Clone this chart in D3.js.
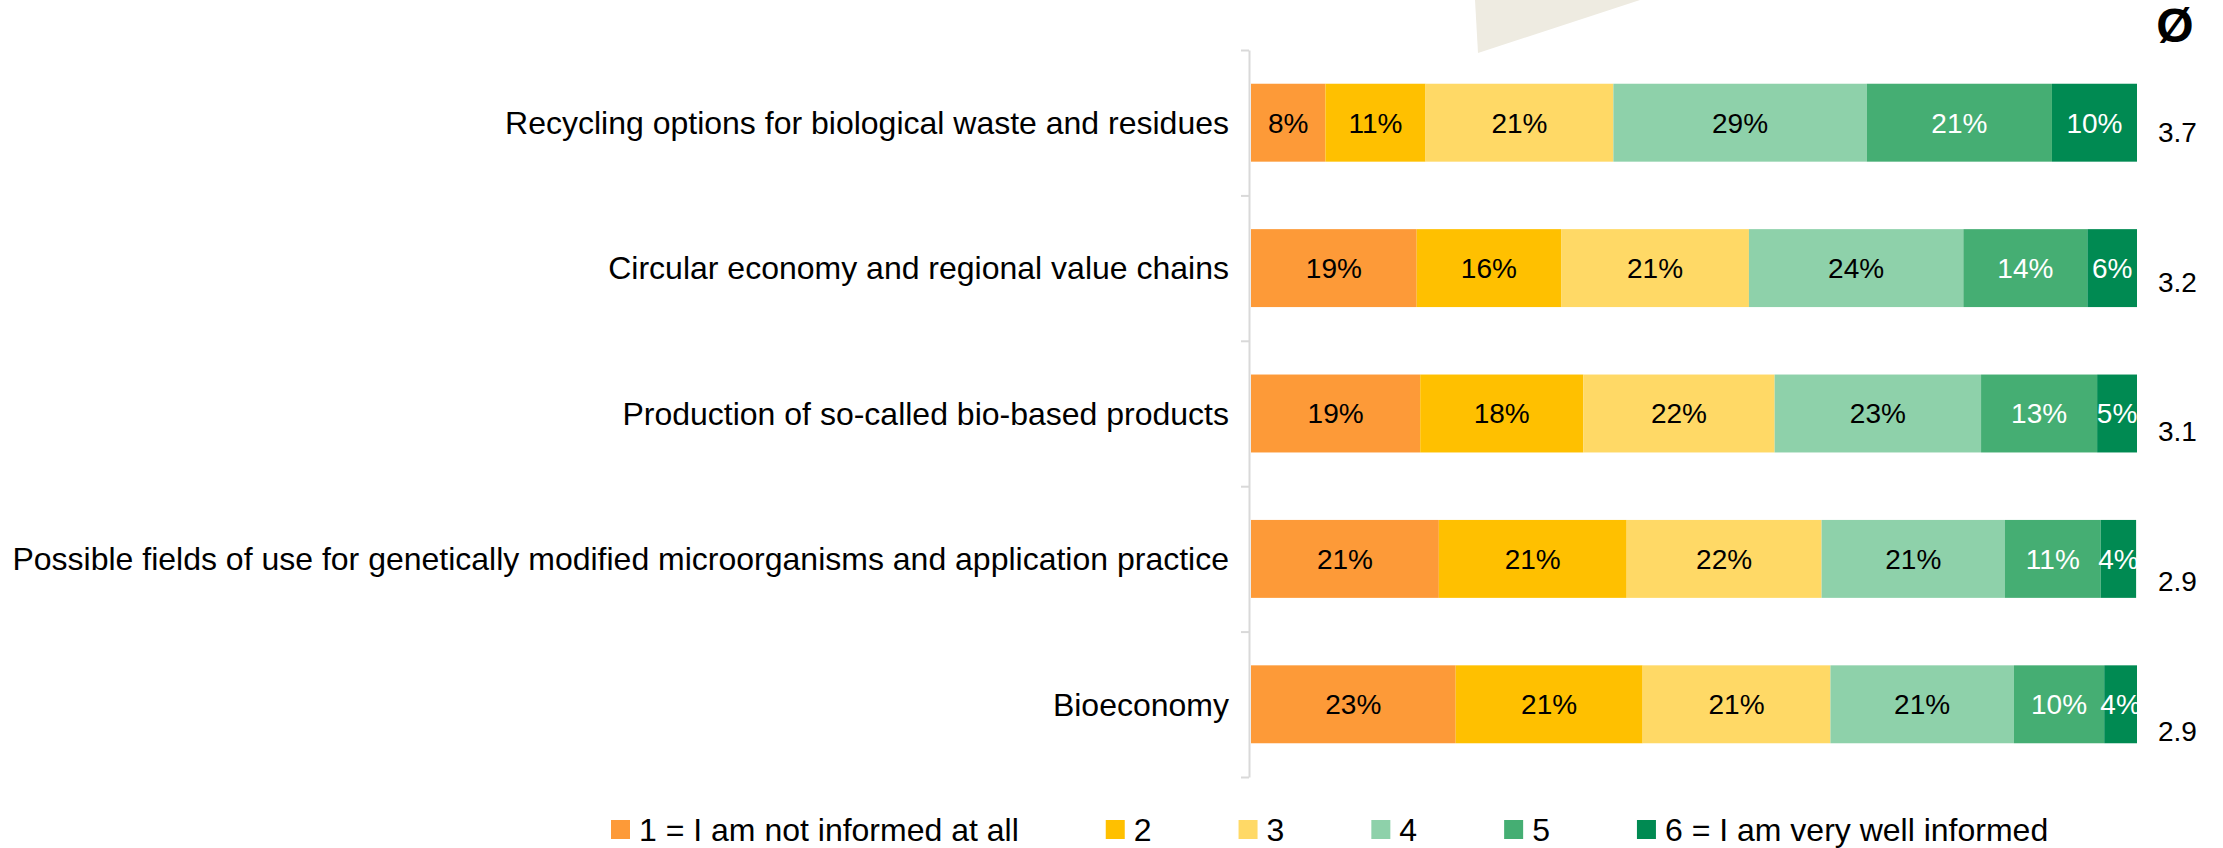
<!DOCTYPE html>
<html>
<head>
<meta charset="utf-8">
<script src="https://d3js.org/d3.v7.min.js"></script>
<style>
  body { margin: 0; background: #fff; }
  svg text { font-family: "Liberation Sans", Arial, sans-serif; }
</style>
</head>
<body>
<svg id="chart" width="2223" height="848"></svg>
<script>
// categories (top to bottom)
const categories = [
  'Recycling options for biological waste and residues',
  'Circular economy and regional value chains',
  'Production of so-called bio-based products',
  'Possible fields of use for genetically modified microorganisms and application practice',
  'Bioeconomy'
];

// share per answer level, in %, one array per level (1..6)
const level1 = [8.4, 18.7, 19.1, 21.2, 23.1];
const level2 = [11.3, 16.3, 18.4, 21.2, 21.1];
const level3 = [21.2, 21.2, 21.6, 22.0, 21.2];
const level4 = [28.6, 24.2, 23.3, 20.7, 20.7];
const level5 = [20.9, 14.0, 13.1, 10.8, 10.2];
const level6 = [9.6, 5.6, 4.5, 4.0, 3.7];

// mean rating per row
const averages = [3.7, 3.2, 3.1, 2.9, 2.9];

const legendLabels = ['1 = I am not informed at all', '2', '3', '4', '5', '6 = I am very well informed'];
const colors = ['#FD9A38', '#FFC000', '#FFD966', '#8ED1AA', '#45AE73', '#008A52'];
const labelColors = ['#000', '#000', '#000', '#000', '#fff', '#fff'];

const levels = [level1, level2, level3, level4, level5, level6];

const svg = d3.select('#chart');
svg.append('rect').attr('width', 2223).attr('height', 848).attr('fill', '#fff');

// decorative beige wedge at the top
svg.append('polygon')
  .attr('points', '1475,0 1478,53 1640,0')
  .attr('fill', '#EEEBE1');

const y = d3.scaleBand()
  .domain(categories)
  .range([50, 777])
  .paddingInner(0.464)
  .paddingOuter(0.232);

const x = d3.scaleLinear().domain([0, 100]).range([1251, 2137]);

// axis with ticks on the category boundaries
const yEdge = d3.scaleLinear().domain([0, categories.length]).range([50, 777]);
const axis = svg.append('g')
  .attr('transform', 'translate(1249,0)')
  .call(d3.axisLeft(yEdge).tickValues(d3.range(categories.length + 1)).tickFormat('').tickSize(8).tickSizeOuter(0));
axis.selectAll('path, line').attr('stroke', '#D9D9D9').attr('stroke-width', 2);

// category labels
svg.append('g').selectAll('text')
  .data(categories)
  .join('text')
  .attr('x', 1229)
  .attr('y', d => y(d) + y.bandwidth() / 2)
  .attr('dy', '0.35em')
  .attr('text-anchor', 'end')
  .attr('font-size', 32)
  .attr('fill', '#000')
  .text(d => d);

// stacked segments
const rows = categories.map((c, i) => {
  let acc = 0;
  return levels.map((lv, k) => {
    const seg = { cat: c, k: k, v: lv[i], x0: acc, x1: acc + lv[i] };
    acc += lv[i];
    return seg;
  });
}).flat();

svg.append('g').selectAll('rect')
  .data(rows)
  .join('rect')
  .attr('x', d => x(d.x0))
  .attr('y', d => y(d.cat))
  .attr('width', d => x(d.x1) - x(d.x0))
  .attr('height', y.bandwidth())
  .attr('fill', d => colors[d.k]);

svg.append('g').selectAll('text')
  .data(rows)
  .join('text')
  .attr('x', d => (x(d.x0) + x(d.x1)) / 2)
  .attr('y', d => y(d.cat) + y.bandwidth() / 2)
  .attr('dy', '0.35em')
  .attr('text-anchor', 'middle')
  .attr('font-size', 28)
  .attr('fill', d => labelColors[d.k])
  .text(d => Math.round(d.v) + '%');

// averages column
const yAvg = d3.scalePoint().domain(categories).range([132, 731]);
svg.append('text')
  .attr('x', 2175)
  .attr('y', 42)
  .attr('text-anchor', 'middle')
  .attr('font-size', 48)
  .attr('font-weight', 'bold')
  .text('Ø');

svg.append('g').selectAll('text')
  .data(categories)
  .join('text')
  .attr('x', 2158)
  .attr('y', d => yAvg(d))
  .attr('dy', '0.35em')
  .attr('font-size', 28)
  .text((d, i) => averages[i].toFixed(1));

// legend
const legend = svg.append('g').attr('transform', 'translate(0,830)');
let lx = 611;
legendLabels.forEach((lab, k) => {
  legend.append('rect')
    .attr('x', lx).attr('y', -10)
    .attr('width', 19).attr('height', 19)
    .attr('fill', colors[k]);
  const t = legend.append('text')
    .attr('x', lx + 28)
    .attr('y', 0)
    .attr('dy', '0.35em')
    .attr('font-size', 32)
    .text(lab);
  lx += 28 + t.node().getComputedTextLength() + 87;
});
</script>
</body>
</html>
